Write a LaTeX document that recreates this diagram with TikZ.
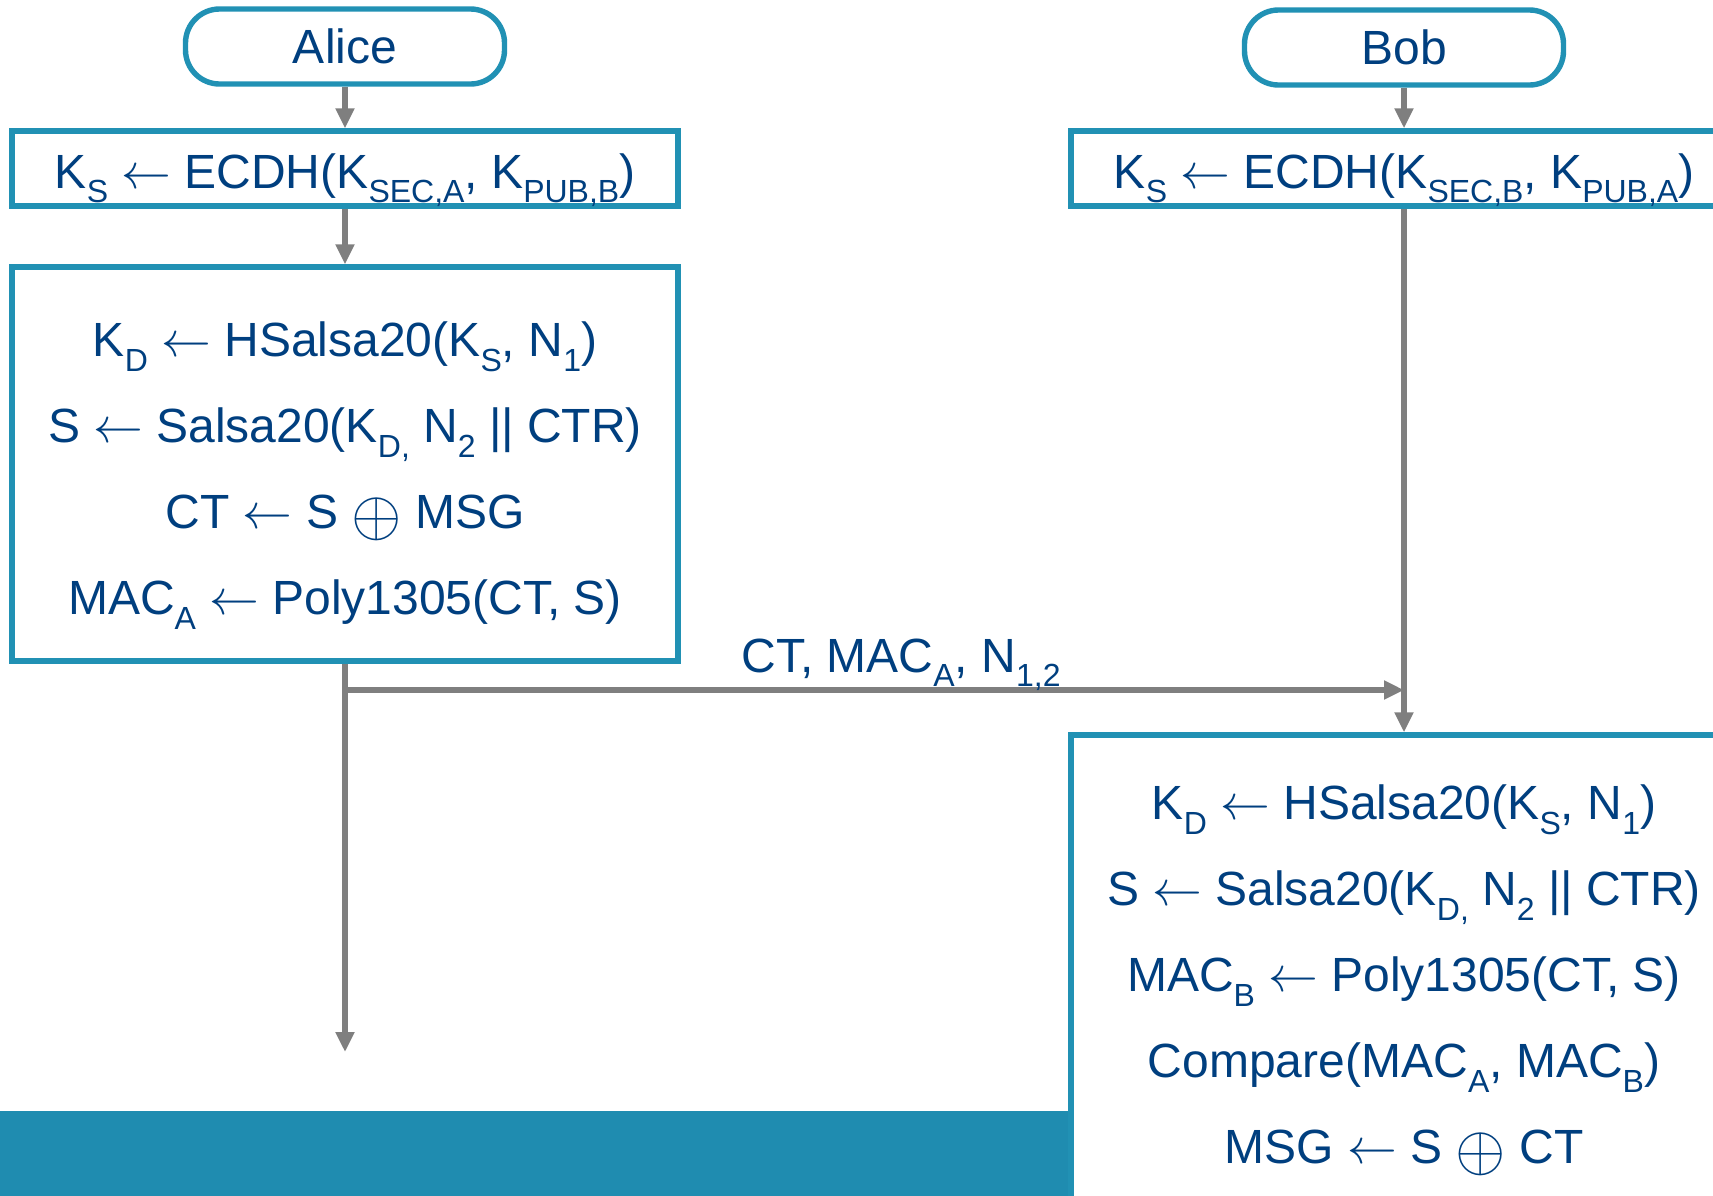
\documentclass[tikz,border=0pt]{standalone}
\usepackage{fontspec}
\setmainfont{Liberation Sans}
\usetikzlibrary{arrows.meta}
\definecolor{frameteal}{HTML}{2191B4}
\definecolor{bandteal}{HTML}{1F8CB0}
\definecolor{inkblue}{HTML}{003F7F}
\definecolor{flowgray}{HTML}{7F7F7F}
% lowered subscript in the text font
\newcommand\lo[1]{\raisebox{-0.3em}{\fontsize{16pt}{16pt}\selectfont #1}}
\newcommand\getsarrow{\ $\leftarrow$\ }
\newcommand\xorop{\raisebox{-0.14em}{\scalebox{1.3}{$\oplus$}}}

\begin{document}
\begin{tikzpicture}[x=0.5pt,y=-0.5pt,
  every node/.style={text=inkblue, font=\fontsize{24pt}{43pt}\selectfont, inner sep=0pt},
  party/.style={draw=frameteal, line width=2.7pt, fill=white, rounded corners=17pt,
                minimum width=159.5pt, minimum height=37.5pt},
  calcbox/.style={draw=frameteal, line width=2.7pt, fill=white, minimum width=333pt},
  flow/.style={draw=flowgray, line width=2.6pt, -{Triangle[width=9pt,length=10pt]}}]
\useasboundingbox (0,0) rectangle (1713,1195);

% footer band
\fill[bandteal] (0,1111) rectangle (1071,1200);

% parties
\node[party] (alice) at (345,46.5) {Alice};
\node[party] (bob) at (1404,47.5) {Bob};

% key agreement
\node[calcbox, minimum height=37.5pt, text height=20pt, text depth=0pt] (ecdhA) at (345,168.5)
  {K\lo{S}\getsarrow ECDH(K\lo{SEC,A}, K\lo{PUB,B})};
\node[calcbox, minimum height=37.5pt, text height=20pt, text depth=0pt] (ecdhB) at (1404,168.5)
  {K\lo{S}\getsarrow ECDH(K\lo{SEC,B}, K\lo{PUB,A})};

% sender: encrypt and authenticate
\node[calcbox, minimum height=197pt] (boxA) at (345,464) {};
\node[align=center] (boxAtext) at (345,475.5)
  {K\lo{D}\getsarrow HSalsa20(K\lo{S}, N\lo{1})\\
   S\getsarrow Salsa20(K\lo{D,} N\lo{2} || CTR)\\
   CT\getsarrow S \xorop{} MSG\\
   MAC\lo{A}\getsarrow Poly1305(CT, S)};

% receiver: verify and decrypt
\node[calcbox, minimum height=252.5pt] (boxB) at (1404,987.5) {};
\node[align=center] (boxBtext) at (1404,980.5)
  {K\lo{D}\getsarrow HSalsa20(K\lo{S}, N\lo{1})\\
   S\getsarrow Salsa20(K\lo{D,} N\lo{2} || CTR)\\
   MAC\lo{B}\getsarrow Poly1305(CT, S)\\
   Compare(MAC\lo{A}, MAC\lo{B})\\
   MSG\getsarrow S \xorop{} CT};

% flow
\coordinate (endA) at (345,1052);
\coordinate (msgRow) at (0,690);
\draw[flow] (alice) -- (ecdhA);
\draw[flow] (bob) -- (ecdhB);
\draw[flow] (ecdhA) -- (boxA);
\draw[flow] (ecdhB) -- (boxB);
\draw[flow] (boxA.south) -- (endA);
\draw[flow] (boxA.south |- msgRow) -- (ecdhB.south |- msgRow);
\node[anchor=base] (msgLabel) at (901,672) {CT, MAC\lo{A}, N\lo{1,2}};
\end{tikzpicture}
\end{document}
